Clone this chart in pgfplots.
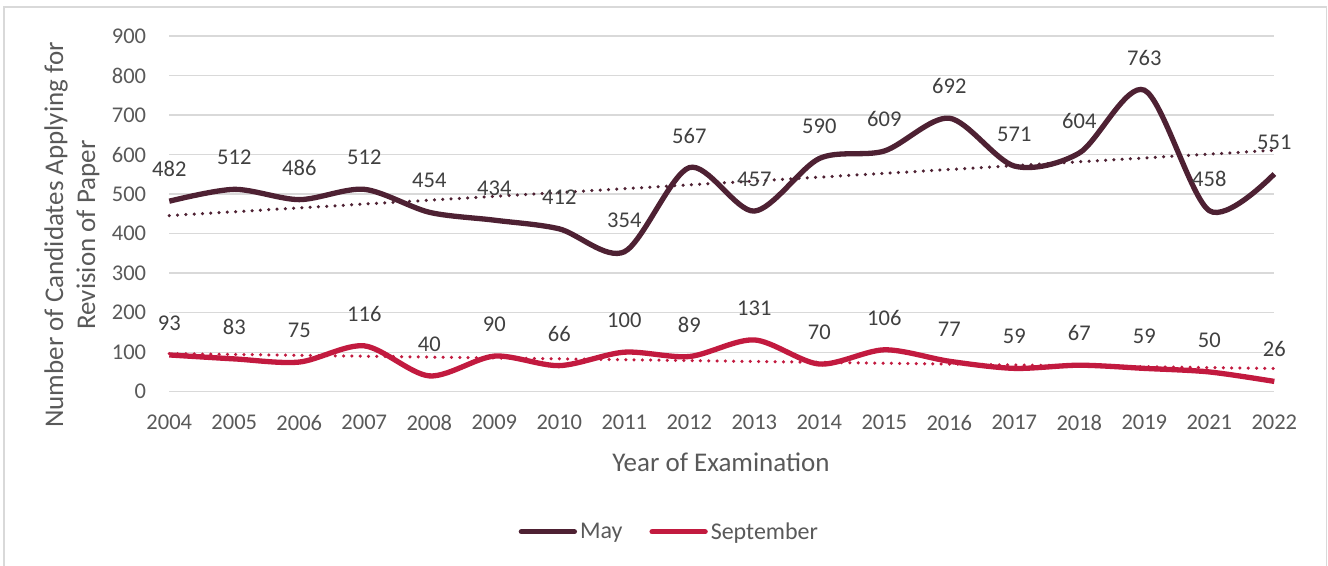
\documentclass[border=0pt]{standalone}
\usepackage{pgfplots}
\pgfplotsset{compat=1.18}
\usepackage{fontspec}
\setmainfont{Carlito}
\definecolor{maycol}{HTML}{4E2133}
\definecolor{sepcol}{HTML}{C21A3F}
\definecolor{gridc}{HTML}{D9D9D9}
\definecolor{txt}{HTML}{595959}
\definecolor{lbl}{HTML}{404040}
\begin{document}
\begin{tikzpicture}[font=\fontsize{22.5bp}{30bp}\selectfont]
\begin{axis}[
  name=ax,
  at={(0,0)}, anchor=south west,
  scale only axis, width=1105bp, height=355.7bp,
  xmin=0, xmax=17, ymin=0, ymax=900,
  ytick={0,100,...,900},
  xtick={0,...,17},
  xticklabels={2004,2005,2006,2007,2008,2009,2010,2011,2012,2013,2014,2015,2016,2017,2018,2019,2021,2022},
  axis line style={draw=none}, tick style={draw=none},
  ymajorgrids, grid style={gridc, line width=1.3bp},
  ticklabel style={text=txt, font=\fontsize{22.5bp}{30bp}\selectfont},
  /pgf/number format/assume math mode=true,
  yticklabel style={anchor=east, inner sep=0pt, xshift=-23bp},
  xticklabel style={anchor=center, inner sep=0pt, yshift=-31bp},
  clip=false,
  legend style={at={(0.453,-0.394)}, anchor=center, draw=none, fill=none,
    legend columns=2, font=\fontsize{24bp}{30bp}\selectfont, text=txt,
    /tikz/every even column/.append style={column sep=24bp},
    nodes={inner xsep=3bp}},
  legend image code/.code={\draw[#1, line cap=round] (0bp,0bp) -- (53bp,0bp);},
  every node near coord/.append style={anchor=center, inner sep=0pt, yshift=32bp, text=lbl, font=\fontsize{22.5bp}{30bp}\selectfont},
]
\addplot[maycol, line width=3.5bp, line cap=round, dash pattern=on 0pt off 8.3bp, forget plot] coordinates {(0,445.6) (17,610.8)};
\addplot[sepcol, line width=3.5bp, line cap=round, dash pattern=on 0pt off 8.3bp, forget plot] coordinates {(0,96.46) (17,58.75)};
\addplot[maycol, line width=5.3bp, smooth, nodes near coords] coordinates {
(0,482) (1,512) (2,486) (3,512) (4,454) (5,434) (6,412) (7,354) (8,567) (9,457) (10,590) (11,609) (12,692) (13,571) (14,604) (15,763) (16,458) (17,551)};
\addlegendentry{May}
\addplot[sepcol, line width=5.3bp, smooth, nodes near coords] coordinates {
(0,93) (1,83) (2,75) (3,116) (4,40) (5,90) (6,66) (7,100) (8,89) (9,131) (10,70) (11,106) (12,77) (13,59) (14,67) (15,59) (16,50) (17,26)};
\addlegendentry{September}
\end{axis}
\pgfresetboundingbox
\begin{scope}[x=1bp, y=1bp, shift={(ax.south west)}, xshift=-169.3bp, yshift=-174.3bp]
\useasboundingbox (0,0) rectangle (1328,566);
\draw[gridc, line width=1.5bp] (4,-10) -- (4,559) -- (1326.7,559) -- (1326.7,-10);
\node[text=txt, anchor=center, inner sep=0pt, font=\fontsize{27bp}{32bp}\selectfont] at (721,103.3) {Year of Examination};
\node[text=txt, rotate=90, align=center, anchor=center, inner sep=0pt, font=\fontsize{27bp}{32bp}\selectfont] at (72,331) {Number of Candidates Applying for\\Revision of Paper};
\end{scope}
\end{tikzpicture}
\end{document}
